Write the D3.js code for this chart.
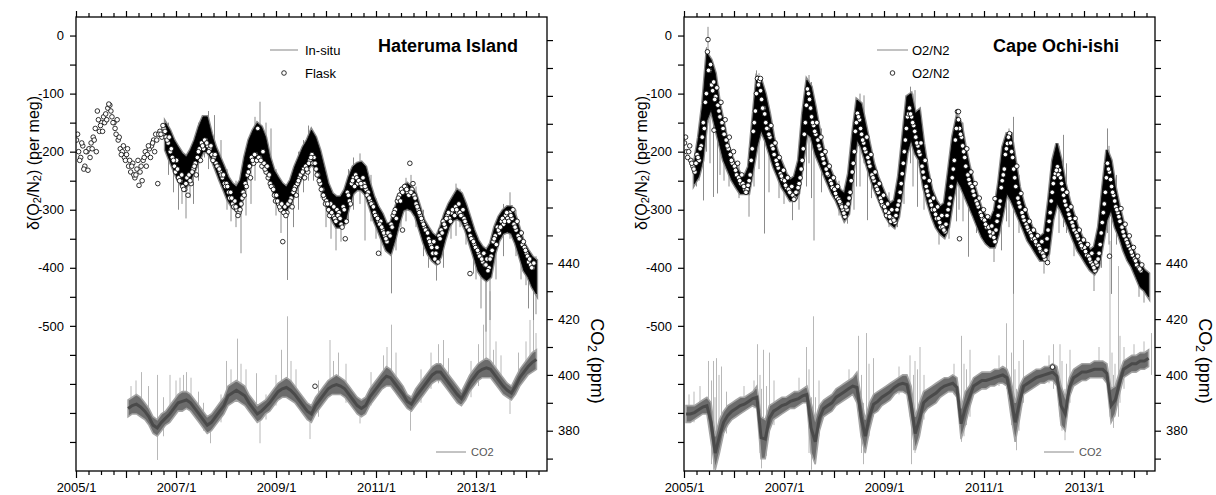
<!DOCTYPE html>
<html><head><meta charset="utf-8">
<script src="https://cdn.jsdelivr.net/npm/d3@7"></script>
<style>
body{margin:0;background:#fff;}
svg{display:block;font-family:"Liberation Sans",Arial,sans-serif;}
</style></head><body>
<svg id="c" width="1216" height="495"></svg>
<script>
// ---------- tick labels ----------
const yearTicks = [2005,2006,2007,2008,2009,2010,2011,2012,2013,2014];
const yearLabels = [2005,2007,2009,2011,2013];
const o2Labels = [0,-100,-200,-300,-400,-500];
const co2Labels = [380,400,420,440];
const titles = ["Hateruma Island","Cape Ochi-ishi"];
const legendLine = ["In-situ","O2/N2"];
const legendDots = ["Flask","O2/N2"];

// ---------- Hateruma ----------
// flask O2/N2, two samples per month starting 2005/1 (set A)
const flaskH = [
-180,-200,-210,-190,-225,-200,-195,-185,-175,-160,-130,-165,-150,-140,-135,-125,-120,-140,-150,-170,-180,-195,-200,-210,
-205,-225,-235,-220,-245,-230,-258,-225,-215,-200,-205,-195,-190,-180,-170,-255,-165,-175,-160,-175,-185,-200,-210,-225,
-215,-245,-250,-260,-265,-245,-240,-255,-230,-220,-210,-195,-185,-195,-180,-190,-195,-205,-210,-220,-225,-235,-245,-255,
-255,-270,-270,-290,-285,-300,-305,-290,-270,-255,-240,-225,-210,-220,-205,-160,-210,-225,-220,-235,-245,-255,-260,-275,
-275,-290,-300,-355,-295,-305,-290,-280,-270,-260,-255,-245,-240,-230,-225,-235,-215,-205,-210,-230,-240,-255,-265,-280,
-285,-300,-290,-310,-315,-300,-305,-325,-295,-350,-270,-285,-255,-245,-240,-255,-250,-260,-255,-265,-270,-285,-290,-305,
-310,-320,-320,-335,-345,-355,-340,-325,-310,-300,-285,-275,-265,-270,-260,-270,-220,-265,-275,-290,-300,-310,-320,-330,
-335,-350,-360,-375,-385,-365,-345,-335,-320,-330,-310,-315,-305,-300,-295,-305,-305,-310,-315,-325,-330,-345,-350,-360,
-365,-375,-380,-390,-395,-385,-400,-380,-355,-345,-330,-340,-320,-325,-310,-315,-305,-315,-325,-335,-345,-350,-360,-365,
-375,-390,-395,-400];
// flask set B (other samples of the same half-months)
const flaskH2 = [
-170,-215,-185,-230,-200,-232,-210,-195,-180,-200,-145,-155,-165,-150,-145,-118,-130,-150,-160,-145,-175,-205,-190,-215,
-195,-215,-225,-240,-240,-215,-235,-250,-210,-225,-190,-210,-185,-200,-180,-170,-170,-155,-165,-180,-175,-195,-215,-235,
-230,-250,-240,-265,-255,-275,-250,-235,-225,-240,-200,-215,-190,-180,-185,-200,-190,-215,-205,-225,-230,-240,-240,-260,
-260,-280,-280,-295,-295,-310,-300,-280,-275,-260,-235,-245,-215,-205,-215,-210,-215,-200,-230,-225,-240,-260,-265,-285,
-285,-295,-290,-305,-310,-290,-285,-295,-265,-275,-250,-240,-235,-245,-230,-220,-210,-220,-220,-240,-250,-265,-275,-290,
-290,-310,-305,-295,-320,-310,-315,-330,-300,-320,-275,-290,-250,-260,-245,-250,-255,-245,-260,-275,-280,-290,-295,-310,
-315,-325,-330,-340,-350,-340,-345,-330,-305,-315,-280,-285,-270,-260,-265,-275,-270,-255,-280,-295,-305,-315,-325,-335,
-340,-355,-365,-355,-375,-390,-350,-340,-325,-315,-305,-320,-300,-310,-300,-290,-310,-300,-320,-330,-335,-350,-355,-365,
-370,-380,-385,-375,-395,-405,-385,-370,-350,-360,-335,-330,-315,-320,-305,-320,-310,-300,-330,-320,-350,-340,-355,-370,
-380,-385,-400,-392];
const flaskHExtra = [[2011.53,-335],[2011.05,-375],[2012.88,-410],[2009.78,-604]];
// in-situ O2/N2 dense band, monthly from 2006/10
const insituHStart = [2006,9];
const insituHHi = [-151,-163,-180,
-192,-203,-209,-197,-180,-157,-140,-140,-169,-192,-209,-226,
-244,-255,-261,-249,-209,-180,-163,-151,-157,-175,-209,-232,
-244,-255,-261,-249,-226,-209,-192,-180,-163,-175,-197,-226,
-255,-272,-278,-278,-266,-243,-226,-220,-218,-226,-255,-278,
-295,-307,-324,-324,-301,-278,-261,-255,-261,-272,-295,-318,
-330,-341,-347,-330,-307,-290,-278,-266,-272,-290,-312,-335,
-353,-364,-370,-358,-330,-312,-301,-295,-295,-312,-335,-358,
-370,-381,-387];
const insituHLo = [-197,-215,-232,
-249,-260,-260,-249,-232,-215,-200,-200,-212,-230,-249,-266,
-284,-295,-301,-295,-261,-232,-215,-210,-212,-225,-249,-272,
-290,-301,-301,-290,-272,-255,-238,-230,-222,-228,-249,-278,
-301,-318,-330,-330,-324,-295,-272,-265,-266,-274,-295,-318,
-335,-353,-370,-376,-353,-324,-301,-298,-301,-312,-335,-358,
-376,-387,-393,-381,-353,-330,-318,-315,-320,-335,-358,-381,
-405,-416,-422,-416,-376,-353,-341,-338,-341,-358,-381,-405,
-416,-433,-445];
// in-situ O2/N2 excursions [date, low, high]
const spikesH = [[2006.85,-240,-150],[2007.05,-300,-200],[2007.2,-315,-230],[2007.35,-290,-200],[2007.57,-210,-137],[2007.77,-230,-137],
[2008.1,-320,-250],[2008.3,-375,-270],[2008.5,-290,-200],[2008.68,-220,-114],[2008.9,-260,-160],[2009.1,-340,-250],[2009.23,-421,-280],
[2009.45,-300,-200],[2009.75,-250,-170],[2010.0,-330,-270],[2010.2,-370,-280],[2010.45,-320,-230],[2010.68,-290,-203],[2010.78,-353,-250],
[2011.0,-350,-280],[2011.31,-444,-330],[2011.5,-330,-260],[2011.7,-300,-240],[2012.05,-400,-330],[2012.21,-422,-350],[2012.5,-350,-280],
[2012.68,-330,-264],[2012.95,-410,-330],[2013.1,-470,-370],[2013.2,-510,-380],[2013.28,-490,-370],[2013.68,-350,-270],[2013.9,-420,-340],
[2014.05,-470,-380],[2014.15,-490,-390],
[2006.95,-270,-190],[2007.12,-290,-220],[2007.28,-280,-210],[2007.45,-250,-150],[2007.65,-230,-130],[2007.9,-260,-180],[2008.02,-300,-230],
[2008.2,-330,-250],[2008.4,-310,-220],[2008.58,-250,-140],[2008.8,-240,-150],[2009.0,-310,-230],[2009.35,-330,-240],[2009.55,-270,-180],
[2009.65,-250,-155],[2009.9,-280,-200],[2010.1,-350,-270],[2010.3,-355,-280],[2010.55,-300,-210],[2010.9,-320,-240],[2011.1,-380,-300],
[2011.4,-370,-300],[2011.6,-320,-245],[2011.8,-330,-260],[2011.95,-380,-300],[2012.35,-400,-320],[2012.6,-345,-255],[2012.8,-360,-290],
[2013.0,-420,-340],[2013.4,-420,-340],[2013.55,-380,-290],[2013.8,-380,-300],[2014.0,-430,-360],[2014.2,-480,-380]];
// CO2 core band, monthly from 2006/1
const co2HStart = [2006,0];
const co2HLo = [385,386,386,385,384,382,379,378,380,382,383,385,
387,387,388,387,385,383,381,379,380,382,384,386,
389,390,391,390,389,387,385,383,384,386,387,389,
391,392,392,391,390,388,386,384,383,386,388,390,
392,393,393,393,392,390,388,386,385,386,389,391,
393,395,396,396,394,392,390,388,387,389,391,393,
395,397,398,398,396,394,392,390,389,391,394,396,
398,399,399,399,397,395,393,392,391,393,396,398,
400,401,402];
const co2HHi = [391,392,393,392,390,388,385,384,386,387,389,391,
393,394,394,393,391,389,387,385,386,388,390,392,
396,397,398,397,396,393,391,389,390,391,393,395,
397,398,399,398,396,394,392,390,389,392,394,396,
398,399,400,399,398,396,394,392,391,392,395,397,
399,401,403,402,400,398,396,393,392,395,397,399,
401,403,404,404,402,400,398,396,394,397,400,402,
404,405,406,405,403,401,399,397,396,399,402,404,
406,408,409];
const co2HSpikes = [[2006.31,390,401],[2006.63,369.5,400],[2006.88,385,400],[2007.08,388,399],[2007.21,390,401],[2007.69,375.5,386],
[2008.01,390,405],[2008.23,392,413],[2008.61,388,400.6],[2008.68,375.5,386],[2009.11,392,409],[2009.23,392,421],[2009.68,377,388],
[2010.08,393,412.5],[2010.68,382.6,390],[2011.31,398,418],[2011.69,380,390],[2012.35,399,412.5],[2013.15,400,418],[2013.2,400,436],
[2013.28,399,430],[2013.35,398,409],[2013.68,386,393],[2014.08,403,419.7],[2014.15,402,425],
[2006.1,386,396],[2006.2,388,398],[2006.45,385,396],[2006.75,378,392],[2007.0,386,398],[2007.15,388,400],[2007.3,389,399],[2007.45,384,394],
[2007.55,380,390],[2007.9,383,393],[2008.1,391,402],[2008.3,392,404],[2008.4,389,402],[2008.8,384,393],[2009.0,389,400],[2009.3,392,405],
[2009.4,390,402],[2009.85,385,398],[2010.15,393,405],[2010.25,394,408],[2010.4,390,404],[2010.9,389,401],[2011.15,395,407],[2011.22,396,410],
[2011.4,395,408],[2011.9,390,402],[2012.1,395,408],[2012.25,397,411],[2012.45,396,406],[2012.9,392,405],[2013.05,396,411],[2013.4,398,412],
[2013.5,395,407],[2013.85,396,408],[2014.0,400,412],[2014.2,402,415]];

// ---------- Cape Ochi-ishi ----------
const flaskO = [
-185,-200,-200,-215,-225,-235,-205,-215,-190,-150,-115,-28,-60,-85,-80,-105,-120,-140,-150,-170,-180,-195,-205,-220,
-225,-240,-245,-255,-255,-265,-265,-250,-215,-165,-130,-74,-78,-110,-125,-150,-160,-175,-190,-205,-215,-228,-238,-248,
-250,-262,-265,-272,-275,-280,-270,-255,-230,-195,-150,-92,-110,-140,-155,-170,-180,-195,-205,-220,-230,-240,-250,-262,
-265,-278,-282,-290,-300,-312,-300,-280,-250,-220,-165,-134,-145,-170,-185,-200,-210,-225,-240,-250,-260,-270,-280,-292,
-295,-310,-305,-320,-315,-322,-300,-285,-255,-220,-180,-140,-125,-140,-155,-175,-190,-205,-225,-245,-260,-275,-285,-300,
-300,-315,-315,-330,-330,-338,-310,-290,-260,-230,-180,-131,-160,-175,-200,-225,-240,-255,-260,-275,-285,-295,-305,-315,
-318,-330,-330,-345,-340,-355,-320,-295,-262,-240,-205,-186,-169,-200,-230,-260,-280,-295,-305,-318,-325,-335,-340,-350,
-350,-360,-362,-372,-375,-385,-350,-320,-285,-255,-238,-226,-232,-255,-275,-292,-300,-315,-322,-335,-340,-350,-358,-366,
-365,-378,-380,-390,-395,-405,-395,-375,-340,-305,-270,-220,-235,-260,-275,-295,-305,-320,-330,-345,-352,-362,-368,-378,
-385,-395,-400,-405];
const flaskO2 = [
-175,-210,-190,-220,-230,-220,-210,-195,-175,-160,-100,-60,-50,-95,-110,-90,-130,-115,-160,-145,-190,-175,-215,-200,
-232,-220,-250,-240,-260,-270,-258,-240,-195,-150,-100,-85,-95,-125,-135,-160,-170,-155,-195,-185,-222,-210,-242,-232,
-258,-245,-270,-260,-282,-270,-262,-245,-215,-170,-120,-100,-125,-150,-165,-150,-190,-175,-212,-200,-238,-225,-255,-245,
-272,-260,-286,-295,-306,-295,-290,-270,-235,-200,-150,-140,-160,-180,-195,-175,-218,-205,-245,-235,-265,-255,-286,-275,
-302,-290,-312,-300,-318,-310,-292,-270,-238,-200,-160,-135,-135,-150,-165,-185,-200,-185,-235,-215,-268,-250,-292,-280,
-308,-295,-322,-310,-335,-325,-300,-280,-245,-215,-160,-145,-170,-190,-210,-195,-248,-235,-268,-255,-290,-280,-310,-300,
-325,-312,-338,-328,-348,-335,-310,-285,-250,-230,-195,-175,-185,-210,-245,-225,-288,-272,-312,-300,-330,-320,-345,-335,
-355,-345,-367,-355,-380,-370,-335,-305,-270,-245,-232,-240,-245,-265,-285,-270,-308,-295,-328,-315,-345,-335,-362,-352,
-372,-360,-385,-375,-400,-390,-385,-360,-322,-290,-245,-230,-248,-270,-285,-300,-312,-298,-338,-325,-357,-345,-373,-365,
-388,-380,-402,-395];
const flaskOExtra = [[2005.48,-7],[2005.6,-163],[2006.53,-74],[2010.49,-131],[2010.51,-350],[2011.22,-281],[2012.27,-391],
[2012.37,-571],[2013.47,-220],[2013.51,-380]];
const insituOStart = [2005,2];
const insituOHi = [-220,-175,-117,-31,-42,-65,-117,-151,-186,-209,
-226,-238,-243,-226,-146,-71,-77,-100,-134,-175,-203,-220,
-238,-249,-243,-215,-134,-77,-88,-123,-163,-197,-220,-238,
-255,-266,-272,-238,-169,-111,-117,-151,-186,-220,-243,-261,
-278,-290,-284,-243,-175,-105,-100,-134,-128,-186,-232,-266,
-284,-295,-289,-232,-174,-140,-151,-192,-226,-255,-278,-301,
-312,-318,-301,-255,-192,-169,-169,-215,-261,-289,-312,-330,
-341,-347,-341,-284,-215,-186,-215,-255,-284,-307,-330,-347,
-358,-370,-364,-330,-261,-197,-215,-261,-295,-324,-347,-364,
-381,-393,-404,-410];
const insituOLo = [-255,-243,-215,-146,-128,-157,-186,-215,-232,-249,
-261,-272,-272,-272,-232,-192,-163,-180,-203,-226,-243,-261,
-272,-284,-284,-272,-220,-169,-175,-203,-220,-238,-255,-272,
-284,-301,-318,-307,-243,-180,-192,-215,-238,-261,-278,-295,
-312,-324,-330,-312,-261,-203,-180,-203,-215,-261,-289,-312,
-330,-341,-347,-330,-284,-249,-261,-278,-295,-312,-330,-347,
-358,-364,-364,-341,-307,-272,-284,-301,-318,-335,-353,-364,
-376,-387,-387,-376,-318,-289,-301,-318,-335,-353,-370,-381,
-393,-404,-410,-399,-358,-318,-301,-330,-347,-370,-387,-399,
-416,-433,-439,-450];
const spikesO = [[2005.3,-250,-175],[2005.39,-284,-150],[2005.48,-150,15],[2005.59,-278,-90],[2005.67,-272,-110],[2005.8,-250,-160],
[2006.3,-312,-240],[2006.45,-200,-60],[2006.61,-341,-150],[2006.9,-280,-200],[2007.17,-318,-250],[2007.5,-220,-68],[2007.6,-353,-170],
[2008.27,-324,-260],[2008.45,-260,-110],[2008.6,-220,-103],[2008.67,-318,-200],[2009.27,-330,-270],[2009.53,-220,-88],[2009.62,-150,-94],
[2009.67,-295,-170],[2010.1,-360,-300],[2010.5,-300,-134],[2010.69,-381,-260],[2011.2,-390,-320],[2011.45,-320,-170],[2011.59,-445,-140],
[2012.2,-410,-350],[2012.59,-330,-171],[2012.8,-380,-320],[2013.2,-440,-380],[2013.47,-340,-160],[2013.55,-445,-300],[2014.1,-450,-390],
[2005.25,-260,-200],[2005.45,-200,-20],[2005.52,-220,-40],[2005.72,-240,-120],[2005.9,-260,-180],[2006.1,-280,-220],[2006.4,-260,-140],
[2006.5,-230,-65],[2006.7,-270,-140],[2007.0,-290,-230],[2007.3,-300,-230],[2007.45,-260,-100],[2007.55,-280,-80],[2007.75,-270,-160],
[2008.1,-310,-250],[2008.4,-300,-180],[2008.52,-260,-100],[2008.75,-280,-200],[2009.1,-330,-270],[2009.4,-290,-150],[2009.58,-260,-100],
[2009.8,-300,-220],[2010.3,-350,-250],[2010.45,-320,-160],[2010.58,-320,-150],[2010.85,-340,-270],[2011.35,-370,-250],[2011.5,-330,-160],
[2011.7,-340,-240],[2012.3,-390,-290],[2012.5,-340,-190],[2012.65,-340,-220],[2013.35,-400,-290],[2013.5,-360,-190],[2013.65,-360,-240],
[2014.2,-460,-400]];
const co2OStart = [2005,0];
const co2OLo = [383,383,384,385,386,386,376,366,372,379,382,384,
385,386,387,388,389,388,370,370,380,384,385,386,
387,388,388,389,390,390,372,368,380,385,386,387,
389,390,391,392,393,390,378,372,380,386,387,389,
390,391,393,394,394,393,383,373,378,386,388,389,
390,392,393,394,394,392,377,382,388,393,394,395,
395,396,396,397,397,396,385,376,384,393,394,395,
396,397,397,398,398,396,382,380,392,396,397,398,
398,399,399,399,399,397,383,386,393,399,400,401,
401,402,402,403];
const co2OHi = [389,389,389,390,391,392,390,378,384,387,389,390,
391,392,392,393,394,396,385,384,389,390,391,392,
392,393,394,394,395,396,390,384,389,391,392,393,
395,396,397,398,399,401,392,384,390,393,394,395,
396,397,398,399,400,400,396,385,390,394,395,396,
397,398,399,399,400,399,388,394,396,399,400,401,
401,401,402,402,403,402,398,390,396,399,400,401,
402,402,403,403,404,403,396,392,399,402,403,404,
404,404,405,405,405,404,395,396,401,405,406,407,
407,408,408,409];
const co2OSpikes = [[2005.32,389,396],[2005.49,388,405],[2005.59,366,405],[2005.65,370,406],[2005.75,380,403],[2006.47,388,411],
[2006.55,366.5,395],[2006.59,372,409],[2006.71,380,408],[2007.45,390,410],[2007.55,366,392],[2007.59,375,421],[2008.49,385,414],
[2008.59,368,390],[2008.65,375,415],[2008.79,385,406],[2009.52,385,407],[2009.55,368,395],[2009.62,372,405],[2009.72,380,410],
[2010.55,376,414],[2010.72,385,409],[2011.45,395,418.5],[2011.59,380,429],[2011.65,373,395],[2011.79,390,412.5],[2012.39,395,411],
[2012.52,385,411],[2012.62,376.6,395],[2012.72,390,409],[2013.52,385,448],[2013.59,381,400],[2013.69,385,439],[2013.72,390,414],
[2014.35,400,415],
[2005.1,383,393],[2005.2,383,394],[2005.55,368,398],[2005.62,367,392],[2005.7,374,400],[2005.85,379,394],[2006.2,387,396],[2006.4,388,398],
[2006.52,372,400],[2006.65,371,396],[2006.8,382,398],[2007.3,389,399],[2007.5,372,402],[2007.63,368,392],[2007.7,378,398],[2008.3,392,402],
[2008.55,372,400],[2008.7,378,404],[2009.3,393,403],[2009.59,373,400],[2009.67,376,402],[2009.8,384,400],[2010.4,393,404],[2010.6,378,404],
[2010.65,382,402],[2011.3,396,407],[2011.55,382,408],[2011.62,376,402],[2011.7,380,405],[2012.3,397,407],[2012.56,380,405],[2012.65,385,404],
[2013.3,399,410],[2013.56,384,408],[2013.62,385,404],[2013.8,395,410],[2014.0,401,411],[2014.2,402,412]];

// ---------- drawing ----------
const svg = d3.select("#c");
const T = 17, B = 471, W = 471;
const monthly = (start, arrLo, arrHi) => arrLo.map((v,i)=>({d: start[0] + (start[1]+i+0.5)/12, lo: v, hi: arrHi[i]}));

const panels = [
 {left:76, flask:flaskH, flask2:flaskH2, flaskExtra:flaskHExtra, band:monthly(insituHStart,insituHLo,insituHHi), spikes:spikesH,
  co2:monthly(co2HStart,co2HLo,co2HHi), co2Spikes:co2HSpikes, title:titles[0], leg1:legendLine[0], leg2:legendDots[0]},
 {left:684, flask:flaskO, flask2:flaskO2, flaskExtra:flaskOExtra, band:monthly(insituOStart,insituOLo,insituOHi), spikes:spikesO,
  co2:monthly(co2OStart,co2OLo,co2OHi), co2Spikes:co2OSpikes, title:titles[1], leg1:legendLine[1], leg2:legendDots[1]}
];

panels.forEach((p,pi)=>{
  const L = p.left, R = L + W;
  const x = d3.scaleLinear().domain([2005, 2005 + W/50]).range([L, R]);
  const yO = d3.scaleLinear().domain([-750, (B-T)/0.5806 - 750]).range([B, T]);
  const yC = d3.scaleLinear().domain([380 - (B-430.7)/2.79, 440 + (263.3-T)/2.79]).range([B, T]);
  const g = svg.append("g");
  const clipId = "clip"+pi;
  svg.append("clipPath").attr("id",clipId).append("rect").attr("x",L).attr("y",T).attr("width",W).attr("height",B-T);
  const plot = g.append("g").attr("clip-path",`url(#${clipId})`);

  // CO2
  plot.append("g").selectAll("line").data(p.co2Spikes).join("line")
    .attr("x1",d=>x(d[0])).attr("x2",d=>x(d[0])).attr("y1",d=>yC(d[1])).attr("y2",d=>yC(d[2]))
    .attr("stroke","#b8b8b8").attr("stroke-width",1);
  const areaC = d3.area().x(d=>x(d.d)).y0(d=>yC(d.lo)).y1(d=>yC(d.hi));
  plot.append("path").datum(p.co2).attr("d",areaC).attr("fill","#6c6c6c").attr("stroke","#a4a4a4").attr("stroke-width",1.6);
  const lineC = d3.line().x(d=>x(d.d)).y(d=>yC((d.lo+d.hi)/2));
  plot.append("path").datum(p.co2).attr("d",lineC).attr("fill","none").attr("stroke","#4a4a4a").attr("stroke-width",3);

  // O2 in-situ
  plot.append("g").selectAll("line").data(p.spikes).join("line")
    .attr("x1",d=>x(d[0])).attr("x2",d=>x(d[0])).attr("y1",d=>yO(d[1])).attr("y2",d=>yO(d[2]))
    .attr("stroke","#8c8c8c").attr("stroke-width",1);
  const areaO = d3.area().x(d=>x(d.d)).y0(d=>yO(d.lo)).y1(d=>yO(d.hi));
  plot.append("path").datum(p.band).attr("d",areaO).attr("fill","#777").attr("stroke","#8a8a8a").attr("stroke-width",3.5);
  plot.append("path").datum(p.band).attr("d",areaO).attr("fill","#000").attr("stroke","#000").attr("stroke-width",0.8);

  // flask
  const fl = p.flask.map((v,i)=>[2005 + (i+0.25)/24, v])
    .concat(p.flask2.map((v,i)=>[2005 + (i+0.75)/24, v]))
    .concat(p.flaskExtra);
  plot.append("g").selectAll("circle").data(fl).join("circle")
    .attr("cx",d=>x(d[0])).attr("cy",d=>yO(d[1])).attr("r",2.3)
    .attr("fill","#fff").attr("stroke","#000").attr("stroke-width",0.8);

  // axes
  const quarters = d3.range(0, 38).map(i=>2005 + i/4).filter(v=>!Number.isInteger(v) && v <= 2005 + W/50);
  const fmt = d => yearLabels.includes(d) ? d + "/1" : "";
  g.append("g").attr("transform",`translate(0,${B})`)
     .call(d3.axisBottom(x).tickValues(yearTicks).tickSize(7).tickPadding(5).tickFormat(fmt));
  g.append("g").attr("transform",`translate(0,${B})`).call(d3.axisBottom(x).tickValues(quarters).tickSize(4).tickFormat(""));
  g.append("g").attr("transform",`translate(0,${T})`).call(d3.axisTop(x).tickValues(yearTicks).tickSize(6).tickFormat(""));
  g.append("g").attr("transform",`translate(0,${T})`).call(d3.axisTop(x).tickValues(quarters).tickSize(4).tickFormat(""));
  g.append("g").attr("transform",`translate(${L},0)`)
    .call(d3.axisLeft(yO).tickValues(d3.range(-700, 1, 50)).tickSize(6).tickPadding(6).tickFormat(d=>o2Labels.includes(d)? String(d):""));
  g.append("g").attr("transform",`translate(${R},0)`)
    .call(d3.axisRight(yC).tickValues(d3.range(370, 521, 10)).tickSize(6).tickPadding(5).tickFormat(d=>co2Labels.includes(d)? String(d):""));
  g.selectAll(".domain").remove();
  g.selectAll(".tick line").attr("stroke","#000").attr("stroke-width",1.2);
  g.selectAll(".tick text").attr("font-size",13).attr("fill","#000").attr("font-family","Liberation Sans, Arial, sans-serif");
  g.append("rect").attr("x",L).attr("y",T).attr("width",W).attr("height",B-T)
    .attr("fill","none").attr("stroke","#000").attr("stroke-width",1.3);

  // title
  g.append("text").attr("x", L + 372).attr("y",52).attr("text-anchor","middle")
    .attr("font-size",18).attr("font-weight","bold").text(p.title);

  // legends
  const lx = pi===0 ? 270 : 877;
  const lw = pi===0 ? 28 : 31;
  const tx = pi===0 ? 305 : 912;
  g.append("line").attr("x1",lx).attr("x2",lx+lw).attr("y1",50).attr("y2",50).attr("stroke","#999").attr("stroke-width",1.2);
  g.append("text").attr("x",tx).attr("y",50).attr("dy","0.35em").attr("font-size",13).text(p.leg1);
  g.append("circle").attr("cx",lx+lw/2).attr("cy",73).attr("r",2.3).attr("fill","#fff").attr("stroke","#000").attr("stroke-width",0.8);
  g.append("text").attr("x",tx).attr("y",73).attr("dy","0.35em").attr("font-size",13).text(p.leg2);

  const cx = L + 360;
  g.append("line").attr("x1",cx).attr("x2",cx+30).attr("y1",452).attr("y2",452).attr("stroke","#888").attr("stroke-width",1);
  g.append("text").attr("x",cx+35).attr("y",452).attr("dy","0.35em").attr("font-size",11).attr("fill","#555").text("CO2");

  // axis titles
  const yl = g.append("text").attr("transform",`translate(${L-43},163) rotate(-90)`).attr("text-anchor","middle")
    .attr("dominant-baseline","central").attr("font-size",16);
  yl.append("tspan").text("δ(O");
  yl.append("tspan").attr("font-size",11).attr("dy",4).text("2");
  yl.append("tspan").attr("dy",-4).text("/N");
  yl.append("tspan").attr("font-size",11).attr("dy",4).text("2");
  yl.append("tspan").attr("dy",-4).text(") (per meg)");
  const cl = g.append("text").attr("transform",`translate(${R+50},361) rotate(90)`).attr("text-anchor","middle")
    .attr("dominant-baseline","central").attr("font-size",18);
  cl.append("tspan").text("CO");
  cl.append("tspan").attr("font-size",12).attr("dy",5).text("2");
  cl.append("tspan").attr("dy",-5).text(" (ppm)");
});
</script>
</body></html>
